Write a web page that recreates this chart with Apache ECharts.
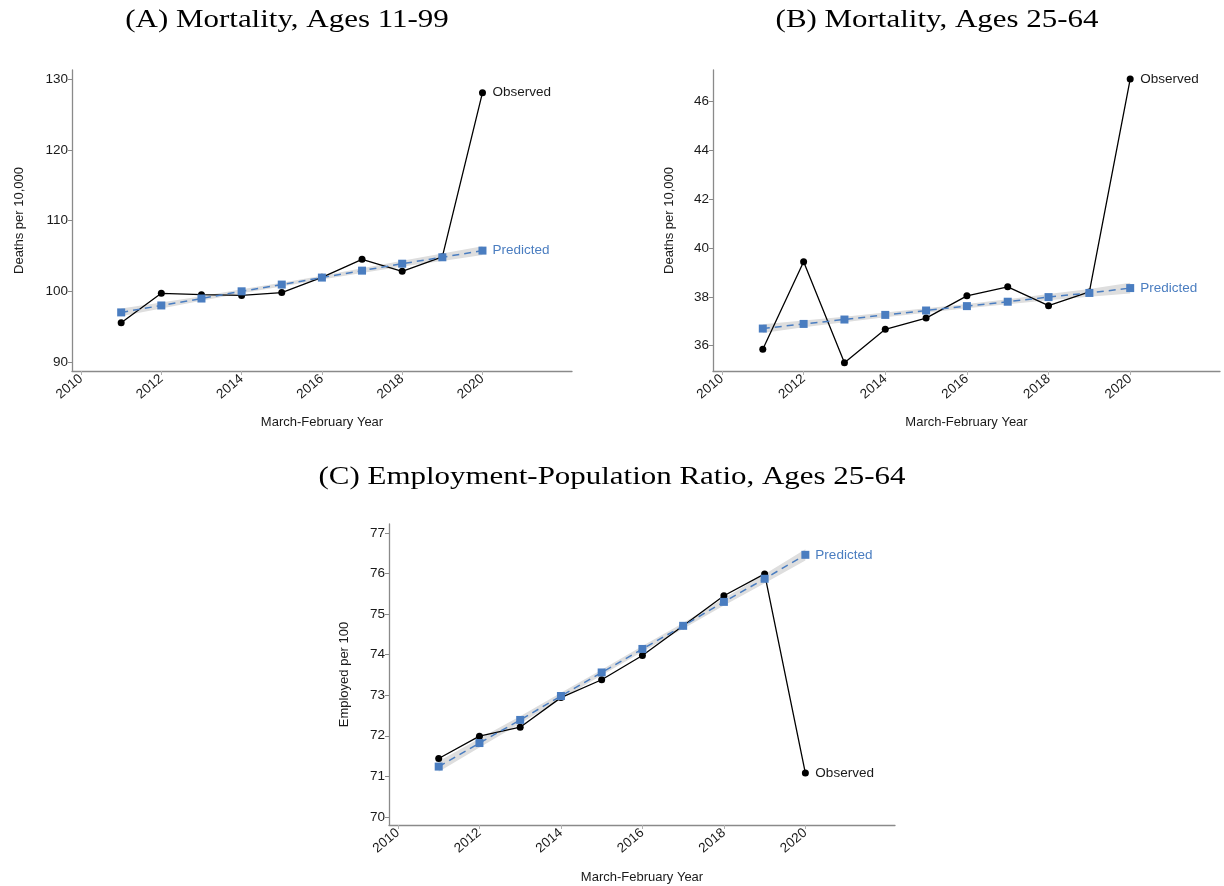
<!DOCTYPE html>
<html>
<head>
<meta charset="utf-8">
<script src="https://cdn.jsdelivr.net/npm/echarts@6/dist/echarts.min.js"></script>
<style>
html,body{margin:0;padding:0;background:#fff;}
#chart{width:1224px;height:886px;}
</style>
</head>
<body>
<div id="chart"></div>
<script>
// ---------- data ----------
const years = [2011, 2012, 2013, 2014, 2015, 2016, 2017, 2018, 2019, 2020];
const xTicks = [2010, 2012, 2014, 2016, 2018, 2020];

// Panel A: Mortality, ages 11-99 (deaths per 10,000)
const obsA = [95.6, 99.75, 99.55, 99.45, 99.85, 102.0, 104.55, 102.85, 104.9, 128.1];
const predA = [97.05, 98.03, 99.01, 100.03, 100.98, 101.97, 102.95, 103.93, 104.84, 105.78];
const lowA = [96.5, 97.6, 98.68, 99.75, 100.72, 101.7, 102.62, 103.52, 104.32, 105.15];
const upA = [97.6, 98.46, 99.34, 100.31, 101.24, 102.24, 103.28, 104.34, 105.36, 106.41];
const yTicksA = [90, 100, 110, 120, 130];

// Panel B: Mortality, ages 25-64 (deaths per 10,000)
const obsB = [35.85, 39.44, 35.3, 36.67, 37.13, 38.04, 38.41, 37.64, 38.2, 46.93];
const predB = [36.7, 36.89, 37.07, 37.26, 37.44, 37.62, 37.8, 37.99, 38.16, 38.36];
const lowB = [36.52, 36.75, 36.96, 37.16, 37.35, 37.53, 37.7, 37.86, 38.0, 38.14];
const upB = [36.88, 37.03, 37.18, 37.36, 37.53, 37.71, 37.9, 38.12, 38.32, 38.58];
const yTicksB = [36, 38, 40, 42, 44, 46];

// Panel C: Employment-population ratio, ages 25-64 (employed per 100)
const obsC = [71.44, 71.99, 72.21, 72.94, 73.38, 73.98, 74.71, 75.45, 75.99, 71.08];
const predC = [71.24, 71.82, 72.39, 72.98, 73.56, 74.14, 74.71, 75.3, 75.87, 76.46];
const lowC = [71.11, 71.71, 72.3, 72.9, 73.49, 74.07, 74.64, 75.21, 75.76, 76.32];
const upC = [71.37, 71.93, 72.48, 73.06, 73.63, 74.21, 74.78, 75.39, 75.98, 76.6];
const yTicksC = [70, 71, 72, 73, 74, 75, 76, 77];

const titles = ['(A) Mortality, Ages 11-99', '(B) Mortality, Ages 25-64', '(C) Employment-Population Ratio, Ages 25-64'];
const yNames = ['Deaths per 10,000', 'Deaths per 10,000', 'Employed per 100'];
const xName = 'March-February Year';

// ---------- chart ----------
const BLUE = '#4a7dc0';
const AXIS = '#8a8a8a';
const TXT = '#1a1a1a';
const SANS = '"Liberation Sans", Arial, sans-serif';

const chart = echarts.init(document.getElementById('chart'), null, {renderer: 'canvas'});

const grids = [
  {left: 72, top: 70, width: 500, height: 301},
  {left: 713, top: 70, width: 507, height: 301},
  {left: 389, top: 524, width: 506, height: 301}
];
const xRanges = [[2009.775, 2022.23], [2009.78, 2022.2], [2009.78, 2022.2]];
const yRanges = [[88.77, 131.3], [34.96, 47.3], [69.8, 77.22]];
const yTickSets = [yTicksA, yTicksB, yTicksC];
const yNameGaps = [46, 37, 38];
const xNameGaps = [45, 45, 46];

function xAxisFor(i) {
  return {
    type: 'value', gridIndex: i, min: xRanges[i][0], max: xRanges[i][1],
    name: xName, nameLocation: 'middle', nameGap: xNameGaps[i],
    nameTextStyle: {fontFamily: SANS, fontSize: 13, color: TXT},
    axisLine: {show: true, lineStyle: {color: AXIS, width: 1.3}},
    axisTick: {show: true, length: 4, lineStyle: {color: '#b0b0b0', width: 1}, customValues: xTicks},
    axisLabel: {customValues: xTicks, rotate: 40, fontFamily: SANS, fontSize: 13.5, color: TXT, margin: 6,
      formatter: v => String(v)},
    splitLine: {show: false}
  };
}
function yAxisFor(i) {
  return {
    type: 'value', gridIndex: i, min: yRanges[i][0], max: yRanges[i][1],
    name: yNames[i], nameLocation: 'middle', nameGap: yNameGaps[i], nameRotate: 90,
    nameTextStyle: {fontFamily: SANS, fontSize: 13, color: TXT},
    axisLine: {show: true, lineStyle: {color: AXIS, width: 1.3}},
    axisTick: {show: true, length: 4, lineStyle: {color: AXIS, width: 1}, customValues: yTickSets[i]},
    axisLabel: {customValues: yTickSets[i], fontFamily: SANS, fontSize: 13.5, color: TXT, margin: 4,
      formatter: v => String(v)},
    splitLine: {show: false}
  };
}

function bandSeries(i, low, up) {
  return {
    type: 'custom', xAxisIndex: i, yAxisIndex: i, z: 1, silent: true,
    data: years.map((y, k) => [y, low[k], up[k]]),
    encode: {x: 0, y: [1, 2]},
    renderItem: function (params, api) {
      if (params.dataIndex !== 0) return null;
      const pts = [];
      for (let k = 0; k < years.length; k++) pts.push(api.coord([years[k], up[k]]));
      for (let k = years.length - 1; k >= 0; k--) pts.push(api.coord([years[k], low[k]]));
      return {type: 'polygon', shape: {points: pts}, style: {fill: '#dedede'}};
    }
  };
}
function obsSeries(i, vals) {
  return {
    type: 'line', xAxisIndex: i, yAxisIndex: i, z: 3, silent: true,
    data: years.map((y, k) => [y, vals[k]]),
    symbol: 'circle', symbolSize: 7,
    itemStyle: {color: '#000'},
    lineStyle: {color: '#000', width: 1.3},
    endLabel: {show: true, formatter: 'Observed', distance: 10, color: TXT, fontFamily: SANS, fontSize: 13.5},
    animation: false
  };
}
function predSeries(i, vals) {
  return {
    type: 'line', xAxisIndex: i, yAxisIndex: i, z: 4, silent: true,
    data: years.map((y, k) => [y, vals[k]]),
    symbol: 'rect', symbolSize: 8,
    itemStyle: {color: BLUE},
    lineStyle: {color: BLUE, width: 1.5, type: [7, 5]},
    endLabel: {show: true, formatter: 'Predicted', distance: 10, color: BLUE, fontFamily: SANS, fontSize: 13.5},
    animation: false
  };
}

const titlePos = [[287, 20], [937, 20], [612, 477]];

chart.setOption({
  animation: false,
  backgroundColor: '#fff',
  grid: grids,
  xAxis: [0, 1, 2].map(xAxisFor),
  yAxis: [0, 1, 2].map(yAxisFor),
  graphic: titles.map((t, i) => ({
    type: 'text', x: titlePos[i][0], y: titlePos[i][1], scaleX: 1.19, scaleY: 1,
    style: {text: t, fontFamily: '"Liberation Serif", "DejaVu Serif", serif', fontSize: 26, fill: '#000',
      textAlign: 'center', textVerticalAlign: 'middle'}
  })),
  series: [
    bandSeries(0, lowA, upA), obsSeries(0, obsA), predSeries(0, predA),
    bandSeries(1, lowB, upB), obsSeries(1, obsB), predSeries(1, predB),
    bandSeries(2, lowC, upC), obsSeries(2, obsC), predSeries(2, predC)
  ]
});
</script>
</body>
</html>
